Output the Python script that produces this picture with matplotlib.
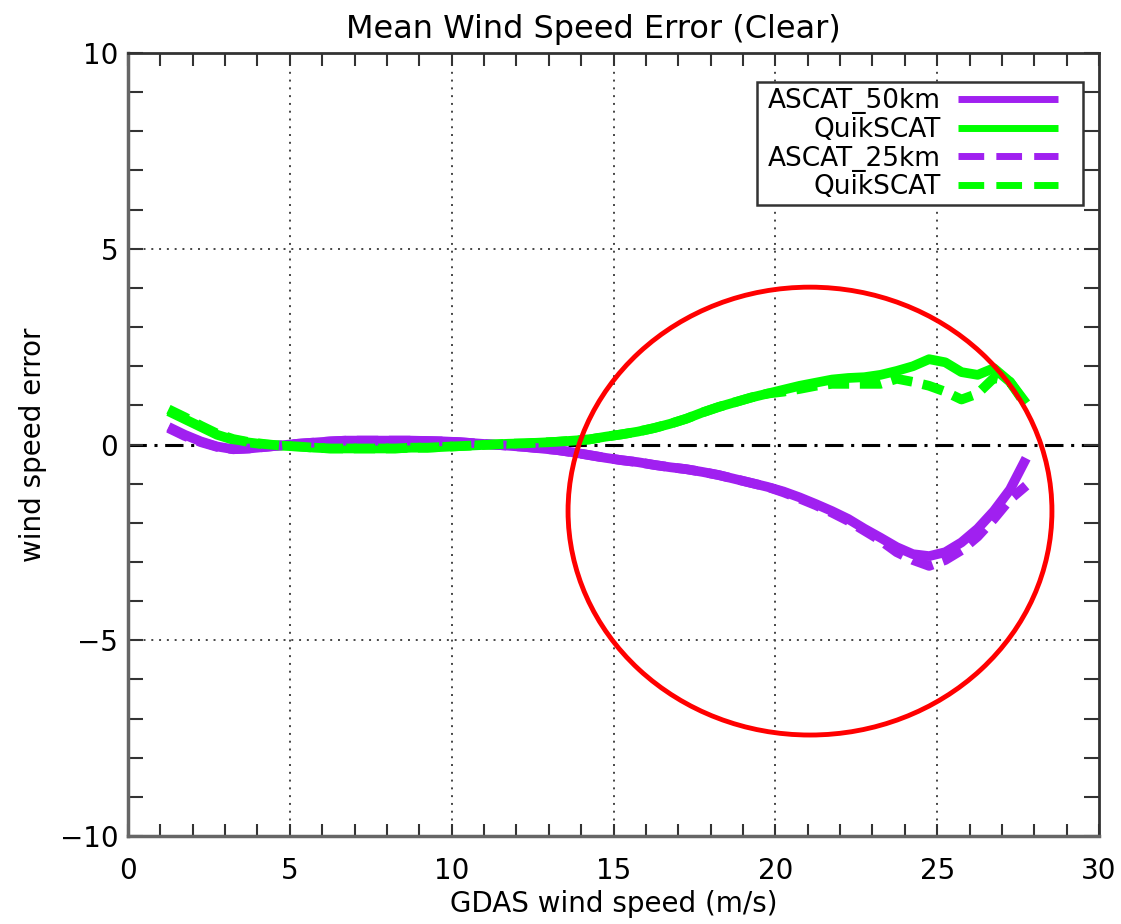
import numpy as np
import matplotlib.pyplot as plt
from matplotlib.patches import Ellipse, Rectangle
from matplotlib.ticker import MultipleLocator

# GDAS wind speed bins (m/s)
wind_speed = [1.25, 1.75, 2.25, 2.75, 3.25, 3.75, 4.25, 4.75, 5.25, 5.75,
              6.25, 6.75, 7.25, 7.75, 8.25, 8.75, 9.25, 9.75, 10.25, 10.75,
              11.25, 11.75, 12.25, 12.75, 13.25, 13.75, 14.25, 14.75, 15.25, 15.75,
              16.25, 16.75, 17.25, 17.75, 18.25, 18.75, 19.25, 19.75, 20.25, 20.75,
              21.25, 21.75, 22.25, 22.75, 23.25, 23.75, 24.25, 24.75, 25.25, 25.75,
              26.25, 26.75, 27.25, 27.75]

# mean wind speed error, ASCAT 50km collocation
ascat_50 = [0.45, 0.25, 0.08, -0.05, -0.12, -0.10, -0.06, -0.02, 0.02, 0.05,
            0.08, 0.10, 0.10, 0.10, 0.10, 0.10, 0.09, 0.08, 0.06, 0.03,
            0.00, -0.03, -0.06, -0.10, -0.14, -0.20, -0.27, -0.34, -0.40, -0.45,
            -0.52, -0.58, -0.63, -0.70, -0.78, -0.88, -0.98, -1.08, -1.20, -1.35,
            -1.52, -1.70, -1.90, -2.15, -2.38, -2.62, -2.80, -2.85, -2.75, -2.50,
            -2.15, -1.70, -1.15, -0.35]
quikscat_50 = [0.85, 0.65, 0.45, 0.25, 0.12, 0.05, 0.00, -0.03, -0.05, -0.08,
               -0.10, -0.10, -0.10, -0.10, -0.10, -0.08, -0.08, -0.06, -0.04, -0.02,
               0.00, 0.02, 0.03, 0.05, 0.07, 0.10, 0.13, 0.20, 0.26, 0.33,
               0.42, 0.53, 0.66, 0.82, 0.96, 1.08, 1.20, 1.30, 1.40, 1.50,
               1.58, 1.66, 1.70, 1.72, 1.78, 1.88, 2.00, 2.18, 2.10, 1.85,
               1.78, 1.95, 1.60, 1.05]

# mean wind speed error, ASCAT 25km collocation
ascat_25 = [0.42, 0.22, 0.06, -0.06, -0.12, -0.10, -0.06, -0.02, 0.02, 0.05,
            0.08, 0.10, 0.10, 0.10, 0.10, 0.10, 0.09, 0.08, 0.06, 0.03,
            0.00, -0.03, -0.06, -0.10, -0.14, -0.20, -0.27, -0.34, -0.40, -0.45,
            -0.52, -0.58, -0.63, -0.70, -0.78, -0.88, -0.98, -1.08, -1.22, -1.38,
            -1.55, -1.74, -1.95, -2.20, -2.45, -2.75, -2.95, -3.10, -2.95, -2.70,
            -2.35, -1.90, -1.40, -1.05]
quikscat_25 = [0.90, 0.70, 0.48, 0.28, 0.14, 0.06, 0.01, -0.03, -0.05, -0.08,
               -0.10, -0.10, -0.10, -0.10, -0.10, -0.08, -0.08, -0.06, -0.04, -0.02,
               0.00, 0.02, 0.03, 0.05, 0.07, 0.10, 0.13, 0.20, 0.26, 0.33,
               0.42, 0.53, 0.66, 0.82, 0.96, 1.08, 1.20, 1.30, 1.35, 1.42,
               1.50, 1.55, 1.55, 1.55, 1.55, 1.68, 1.60, 1.50, 1.35, 1.15,
               1.30, 1.70, 1.60, 1.00]

# highlighted high wind region: centre, width, height in data units
ring_center = (21.07, -1.70)
ring_width = 14.95
ring_height = 11.44

purple = '#a020f0'
green = '#00ff00'
dashes = (0, (2.2, 1.1))

fig = plt.figure(figsize=(11.21, 9.24), dpi=100)
ax = fig.add_axes([0.1142, 0.0952, 0.8662, 0.8474])

# zero reference and dotted grid at the major ticks
ax.axhline(0, color='black', lw=2.2, ls=(0, (6, 2.5, 1, 2.5)), zorder=1)
for gx in [5, 10, 15, 20, 25]:
    ax.axvline(gx, color='#444444', lw=1.4, ls=(0, (1, 3)), zorder=0)
for gy in [5, -5]:
    ax.axhline(gy, color='#444444', lw=1.4, ls=(0, (1, 3)), zorder=0)

ax.plot(wind_speed, ascat_50, color=purple, lw=7, label='ASCAT_50km', solid_capstyle='butt')
ax.plot(wind_speed, quikscat_50, color=green, lw=7, label='QuikSCAT', solid_capstyle='butt')
ax.plot(wind_speed, ascat_25, color=purple, lw=7, ls=dashes, label='ASCAT_25km')
ax.plot(wind_speed, quikscat_25, color=green, lw=7, ls=dashes, label='QuikSCAT')

ring = Ellipse(ring_center, ring_width, ring_height, fill=False,
               edgecolor='red', lw=3.5, zorder=5)
ax.add_patch(ring)

ax.set_xlim(0, 30)
ax.set_ylim(-10, 10)
ax.xaxis.set_major_locator(MultipleLocator(5))
ax.xaxis.set_minor_locator(MultipleLocator(1))
ax.yaxis.set_major_locator(MultipleLocator(5))
ax.yaxis.set_minor_locator(MultipleLocator(1))
ax.tick_params(axis='both', which='both', direction='in', top=True, right=True,
               width=1.5, color='#333333')
ax.tick_params(axis='y', which='both', length=11)
ax.tick_params(axis='x', which='both', length=9)
ax.tick_params(axis='x', which='major', labelsize=20, pad=15)
ax.tick_params(axis='y', which='major', labelsize=20, pad=7)
for side in ['left', 'bottom']:
    ax.spines[side].set_linewidth(2.5)
    ax.spines[side].set_color('#666666')
for side in ['top', 'right']:
    ax.spines[side].set_linewidth(2)
    ax.spines[side].set_color('#333333')

ax.set_title('Mean Wind Speed Error (Clear)', fontsize=23, pad=11, x=0.479)
ax.set_xlabel('GDAS wind speed (m/s)', fontsize=20, labelpad=4)
ax.set_ylabel('wind speed error', fontsize=20, labelpad=9)

# legend box drawn separately so the sample lines keep a gap on the right
box = Rectangle((0.648, 0.806), 0.335, 0.157, transform=ax.transAxes,
                facecolor='white', edgecolor='#333333', lw=1.8, zorder=6)
ax.add_patch(box)
leg = ax.legend(loc='upper right', bbox_to_anchor=(0.958, 0.955), borderaxespad=0,
                markerfirst=False, fontsize=19, handlelength=3.8, handletextpad=0.65,
                labelspacing=0.1, borderpad=0, frameon=False)
leg.set_zorder(7)
for i, line in enumerate(leg.get_lines()):
    line.set_linewidth(5)
    if i >= 2:
        line.set_linestyle((0, (3.7, 1.75)))

fig.savefig('out.png', dpi=100)
